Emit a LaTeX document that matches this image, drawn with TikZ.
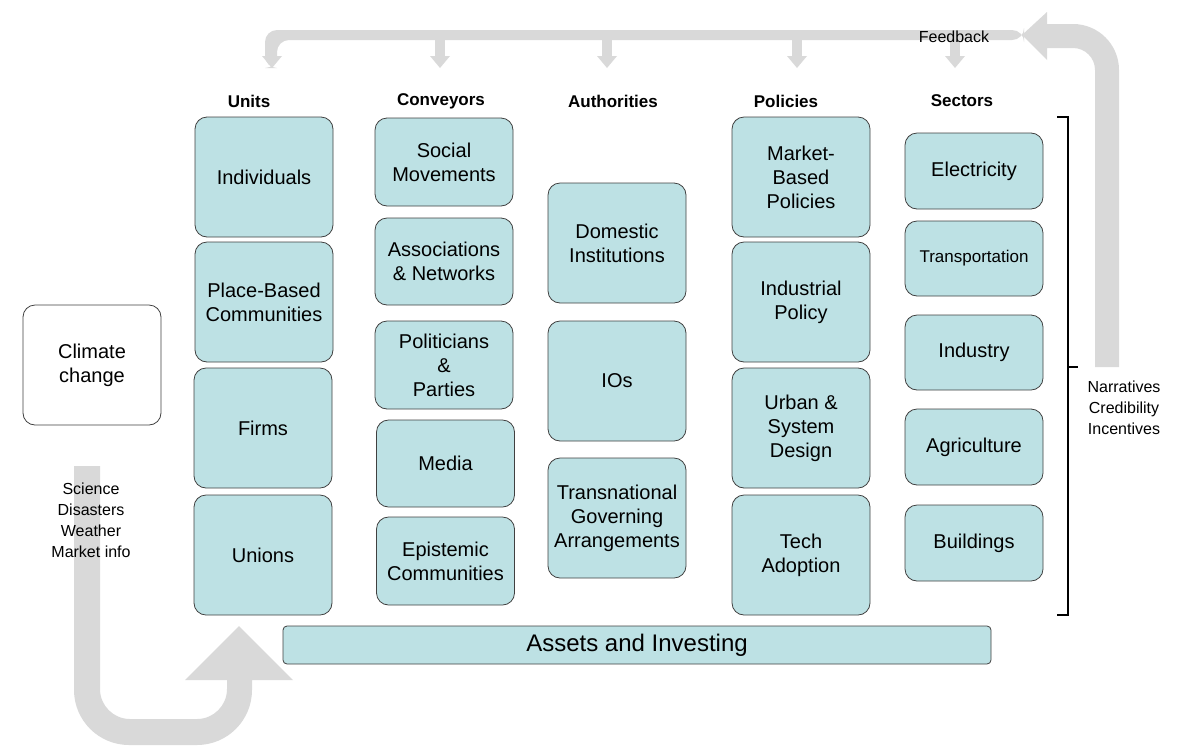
\documentclass[tikz,border=0pt]{standalone}
\usepackage{fontspec}
\setmainfont{Liberation Sans}
\begin{document}
\begin{tikzpicture}[x=1pt,y=-1pt,
  bx/.style={draw=black!75,line width=0.8pt,fill=boxc,rounded corners=12pt,align=center,inner sep=0pt,font=\fontsize{20}{24}\selectfont},
  hd/.style={font=\bfseries\fontsize{17}{20}\selectfont},
  side/.style={align=center,font=\fontsize{16}{21}\selectfont},
  gr/.style={fill=grayc,draw=none}]
\definecolor{boxc}{HTML}{BDE1E4}
\definecolor{grayc}{HTML}{D9D9D9}
\useasboundingbox (0,0) rectangle (1185,753);
% feedback bar
\fill[grayc,rounded corners=12pt] (265,68) -- (265,30) -- (1024,30) -- (1024,40) -- (277,40) -- (277,68) -- cycle;
\foreach \x in {272,440,607,797,955}{
  \fill[grayc] (\x-5,38) rectangle (\x+5,56);
  \fill[grayc] (\x-10,56) -- (\x+10,56) -- (\x,68) -- cycle;}
% big right arrow
\fill[grayc] (1095,367) -- (1095,70) arc[start angle=0,end angle=-90,radius=22] -- (1047,48) -- (1047,60) -- (1022,35) -- (1047,12) -- (1047,24) -- (1073,24) arc[start angle=-90,end angle=0,radius=46] -- (1119,367) -- cycle;
% bottom-left arrow
\fill[grayc] (74,466) -- (100,466) -- (100,689) arc[start angle=180,end angle=90,radius=30] -- (197,719) arc[start angle=90,end angle=0,radius=30] -- (227,680) -- (185,680) -- (239,626) -- (293,680) -- (252,680) -- (252,690) arc[start angle=0,end angle=90,radius=55] -- (129,745) arc[start angle=90,end angle=180,radius=55] -- cycle;
% headers
\node[hd] (hu) at (249,101) {Units};
\node[hd] (hc) at (441,101) {Conveyors};
\node[hd] (ha) at (613,101) {Authorities};
\node[hd] (hp) at (786,101) {Policies};
\node[hd] (hs) at (962,101) {Sectors};
\node[font=\fontsize{16}{19}\selectfont] (fb) at (954,37) {Feedback};
% units
\node[bx,minimum width=138pt,minimum height=120pt] (u1) at (264,177) {Individuals};
\node[bx,minimum width=138pt,minimum height=120pt] (u2) at (264,302) {Place-Based\\Communities};
\node[bx,minimum width=138pt,minimum height=120pt] (u3) at (263,428) {Firms};
\node[bx,minimum width=138pt,minimum height=120pt] (u4) at (263,555) {Unions};
% conveyors
\node[bx,minimum width=138pt,minimum height=88pt] (c1) at (444,162) {Social\\Movements};
\node[bx,minimum width=138pt,minimum height=87pt] (c2) at (444,261.5) {Associations\\\& Networks};
\node[bx,minimum width=138pt,minimum height=88pt] (c3) at (444,365) {Politicians\\\&\\Parties};
\node[bx,minimum width=138pt,minimum height=87pt] (c4) at (445.5,463.5) {Media};
\node[bx,minimum width=138pt,minimum height=88pt] (c5) at (445.5,561) {Epistemic\\Communities};
% authorities
\node[bx,minimum width=138pt,minimum height=120pt] (a1) at (617,243) {Domestic\\Institutions};
\node[bx,minimum width=138pt,minimum height=120pt] (a2) at (617,381) {IOs};
\node[bx,minimum width=138pt,minimum height=120pt] (a3) at (617,518) {Transnational\\Governing\\Arrangements};
% policies
\node[bx,minimum width=138pt,minimum height=120pt] (p1) at (801,177) {Market-\\Based\\Policies};
\node[bx,minimum width=138pt,minimum height=120pt] (p2) at (801,302) {Industrial\\Policy};
\node[bx,minimum width=138pt,minimum height=120pt] (p3) at (801,428) {Urban \&\\System\\Design};
\node[bx,minimum width=138pt,minimum height=120pt] (p4) at (801,555) {Tech\\Adoption};
% sectors
\node[bx,minimum width=138pt,minimum height=76pt] (s1) at (974,171) {Electricity};
\node[bx,minimum width=138pt,minimum height=75pt,font=\fontsize{17}{20}\selectfont] (s2) at (974,258.5) {Transportation};
\node[bx,minimum width=138pt,minimum height=75pt] (s3) at (974,352.5) {Industry};
\node[bx,minimum width=138pt,minimum height=76pt] (s4) at (974,447) {Agriculture};
\node[bx,minimum width=138pt,minimum height=76pt] (s5) at (974,543) {Buildings};
% assets
\node[bx,rounded corners=4pt,minimum width=708pt,minimum height=38pt,font=\fontsize{24}{28}\selectfont] (as) at (637,645) {Assets and Investing};
% climate
\node[bx,fill=white,minimum width=138pt,minimum height=120pt] (cc) at (92,365) {Climate\\change};
% side texts
\node[side] (sci) at (91,520) {Science\\Disasters\\Weather\\Market info};
\node[side] (nar) at (1124,408) {Narratives\\Credibility\\Incentives};
% bracket
\draw[line width=1.5pt] (1057,117) -- (1068,117) -- (1068,615) -- (1057,615);
\draw[line width=1.5pt] (1068,367) -- (1078,367);
\end{tikzpicture}
\end{document}
